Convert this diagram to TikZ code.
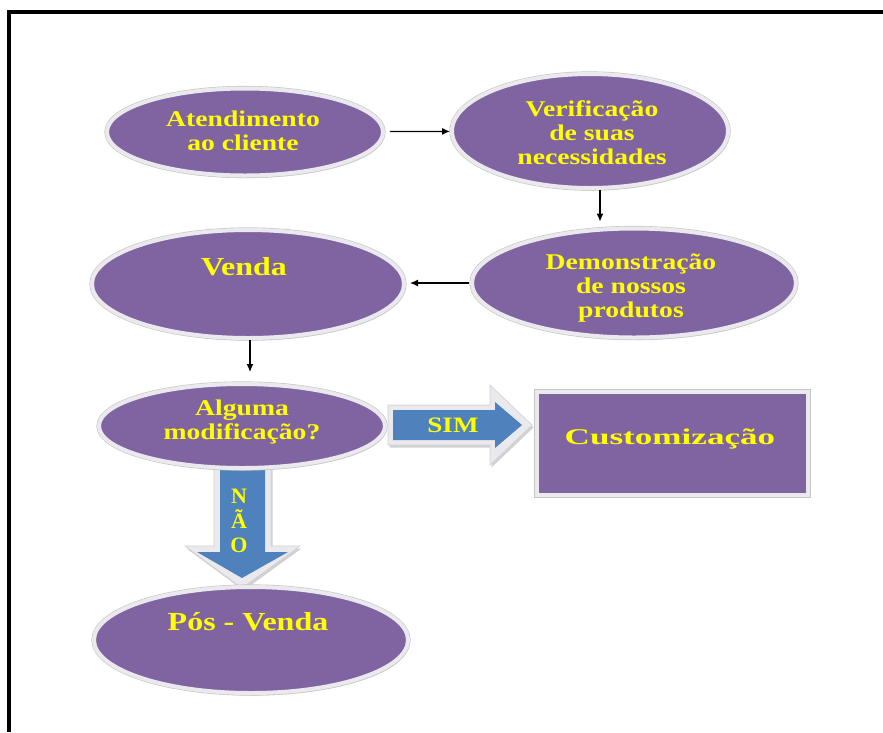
\documentclass[tikz,border=0pt]{standalone}
\usepackage{fontspec}
\setmainfont{Liberation Serif}
\newfontfamily\tf[FakeStretch=1.23]{Liberation Serif}
\newfontfamily\tfw[FakeStretch=1.56]{Liberation Serif}
\usetikzlibrary{shapes.geometric,shadows,arrows.meta}
\definecolor{purp}{HTML}{8064A2}
\definecolor{blu}{HTML}{4F81BD}
\definecolor{yel}{HTML}{FFFF00}
\definecolor{rim}{HTML}{EAEAEE}
\begin{document}
\begin{tikzpicture}[x=1pt,y=-1pt,
  shad/.style={drop shadow={shadow xshift=1.5pt, shadow yshift=-2.5pt, fill=gray!80, opacity=.45}},
  rimline/.style={preaction={draw=gray!45, line width=5.2pt}},
  oval/.style={ellipse, fill=purp, draw=rim, line width=4pt, inner sep=0pt, shad, rimline},
  boxn/.style={rectangle, fill=purp, draw=rim, line width=4pt, inner sep=0pt, shad, rimline},
  txt/.style={text=yel, font=\tf\bfseries\fontsize{22.5}{24}\selectfont, align=center, inner sep=0pt},
  bigtxt/.style={text=yel, font=\tf\bfseries\fontsize{26}{28}\selectfont, align=center, inner sep=0pt},
  arrowout/.style={fill=rim, draw=gray!35, line width=0.6pt, shad},
  arrowin/.style={fill=blu},
  conn/.style={line width=1.2pt, -{Latex[length=8pt,width=7pt]}}
]
\useasboundingbox (0,0) rectangle (883,732);
\fill[white] (0,0) rectangle (883,732);
% frame
\draw[line width=4pt, line join=miter] (8.7,732) -- (8.7,12) -- (883,12);

% block arrows (drawn beneath the nodes)
\draw[arrowout] (388,405) -- (490,405) -- (490,385) -- (532,425) -- (490,465) -- (490,445) -- (388,445) -- cycle;
\fill[arrowin] (393,410) -- (495,410) -- (495,402) -- (522,425) -- (495,448) -- (495,440) -- (393,440) -- cycle;
\draw[arrowout] (214,466) -- (271,466) -- (271,546) -- (300,546) -- (242,588) -- (185,546) -- (214,546) -- cycle;
\fill[arrowin] (220,470) -- (265,470) -- (265,552) -- (288,552) -- (242,578) -- (197,552) -- (220,552) -- cycle;

% shapes
\node[oval, minimum width=276pt, minimum height=87pt] (atend) at (245,132) {};
\node[oval, minimum width=276pt, minimum height=114pt] (verif) at (590,131) {};
\node[oval, minimum width=324pt, minimum height=109pt] (demo) at (634,283) {};
\node[oval, minimum width=312pt, minimum height=108pt] (venda) at (248,284) {};
\node[oval, minimum width=286pt, minimum height=84pt] (alguma) at (242,426) {};
\node[oval, minimum width=314pt, minimum height=106pt] (pos) at (251,640) {};
\node[boxn, minimum width=271pt, minimum height=103pt] (custom) at (672.5,443.5) {};

% texts
\node[txt] (atendT) at (243,131) {Atendimento\\ao cliente};
\node[txt] (verifT) at (592,133) {Verifica\c{c}\~ao\\de suas\\necessidades};
\node[txt] (demoT) at (631,288) {Demonstra\c{c}\~ao\\de nossos\\produtos};
\node[bigtxt] (vendaT) at (244,267) {Venda};
\node[txt] (algumaT) at (242,422) {Alguma\\modifica\c{c}\~ao?};
\node[bigtxt] (posT) at (248,622) {P\'os - Venda};
\node[text=yel, font=\tfw\bfseries\fontsize{22.5}{24}\selectfont, inner sep=0pt] (customT) at (670,439) {Customiza\c{c}\~ao};
\node[text=yel, font=\tf\bfseries\fontsize{22}{24}\selectfont, inner sep=0pt] (simT) at (453,425) {SIM};
\node[text=yel, font=\bfseries\fontsize{22}{24.5}\selectfont, align=center, inner sep=0pt] (naoT) at (239,521) {N\\\~A\\O};

% connectors
\draw[conn, shorten <=5pt] (atend) -- (verif);
\draw[conn, shorten >=5pt] ([xshift=10pt]verif.south) -- ([xshift=10pt]verif.south |- demo.north);
\draw[conn, shorten <=1pt, shorten >=4pt] (demo.west) -- (venda.east |- demo.west);
\draw[conn, shorten >=10pt] ([xshift=2pt]venda.south) -- ([xshift=2pt]venda.south |- alguma.north);
\end{tikzpicture}
\end{document}
